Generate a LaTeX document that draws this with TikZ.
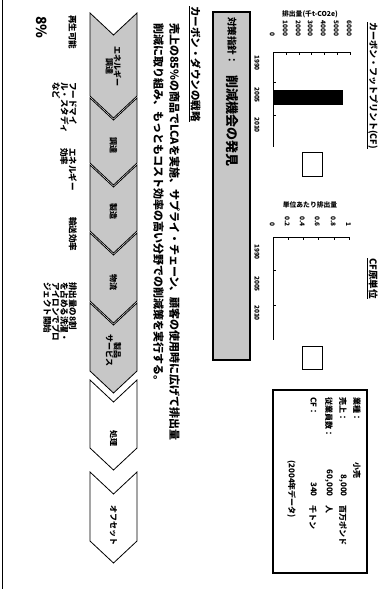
\documentclass[tikz,border=0pt]{standalone}
\usepackage{fontspec}
\setmainfont{Noto Sans CJK JP}
\begin{document}
\begin{tikzpicture}[x=1pt,y=-1pt,
  rt/.style={rotate=-90, inner sep=0pt, align=left},
  fs/.style={font=\bfseries\fontsize{#1}{#1}\selectfont},
  axisline/.style={line width=0.9pt},
  chevbox/.style={draw=black, line width=0.8pt},
  dotfill/.style={fill=black!22},
  legendbox/.style={draw=black, line width=0.8pt, fill=white}]
\useasboundingbox (0,0) rectangle (390,589);
% frame line
\draw[line width=1pt] (2,0) -- (2,589);

% ---- title 1
\node[rt, fs=9, anchor=north west] (t1) at (378,22) {カーボン・フットプリント(CF)};
\draw[line width=0.9pt] ([xshift=-1pt]t1.south west) -- ([xshift=-1pt]t1.south east);
% chart 1
\node[fs=6.8, inner sep=0pt] (ylab1) at (310,14) {排出量(千t-CO2e)};
\draw[axisline] (273,52) -- (350,52);
\draw[axisline] (273,52) -- (273,147);
\foreach \x in {286,299,311,324,337,350} \draw[line width=0.7pt] (\x,52) -- (\x,55);
\foreach \y in {82,115} \draw[line width=0.7pt] (273,\y) -- (276,\y);
\node[rt, fs=6.5, anchor=north east] (tk10) at (275,37) {0};
\node[rt, fs=6.5, anchor=north east] (tk11) at (288,37) {1000};
\node[rt, fs=6.5, anchor=north east] (tk12) at (301,37) {2000};
\node[rt, fs=6.5, anchor=north east] (tk13) at (313,37) {3000};
\node[rt, fs=6.5, anchor=north east] (tk14) at (326,37) {4000};
\node[rt, fs=6.5, anchor=north east] (tk15) at (339,37) {5000};
\node[rt, fs=6.5, anchor=north east] (tk16) at (352,37) {6000};
\fill[black] (274,90) rectangle (343,105);
\node[rt, fs=6.5] (yr1a) at (257,63) {1990};
\node[rt, fs=6.5] (yr1b) at (257,95) {2005};
\node[rt, fs=6.5] (yr1c) at (257,125) {2010};
\node[legendbox, minimum width=20pt, minimum height=24pt] (lg1) at (312,164) {};

% ---- title 2
\node[rt, fs=9.5, anchor=north west] (t2) at (378,258) {CF原単位};
\draw[line width=0.9pt] ([xshift=-1pt]t2.south west) -- ([xshift=-1pt]t2.south east);
% chart 2
\node[fs=6.8, inner sep=0pt] (ylab2) at (310,205) {単位あたり排出量};
\draw[axisline] (273,237) -- (350,237);
\draw[axisline] (273,237) -- (273,340);
\foreach \x in {288,303,318,334,349} \draw[line width=0.7pt] (\x,237) -- (\x,240);
\foreach \y in {270,305} \draw[line width=0.7pt] (273,\y) -- (276,\y);
\node[rt, fs=6.5, anchor=north east] (tk20) at (275,227) {0};
\node[rt, fs=6.5, anchor=north east] (tk21) at (290,227) {0.2};
\node[rt, fs=6.5, anchor=north east] (tk22) at (305,227) {0.4};
\node[rt, fs=6.5, anchor=north east] (tk23) at (320,227) {0.6};
\node[rt, fs=6.5, anchor=north east] (tk24) at (336,227) {0.8};
\node[rt, fs=6.5, anchor=north east] (tk25) at (351,227) {1};
\node[rt, fs=6.5] (yr2a) at (257,252) {1990};
\node[rt, fs=6.5] (yr2b) at (257,284) {2005};
\node[rt, fs=6.5] (yr2c) at (257,313) {2010};
\node[legendbox, minimum width=20pt, minimum height=23pt] (lg2) at (312,358) {};

% ---- info box
\draw[line width=1.2pt] (273,390) rectangle (367,573);
\node[rt, fs=8, anchor=north west] (i1) at (361,397) {業種：};
\node[rt, fs=8, anchor=north west] (i2) at (347,397) {売上：};
\node[rt, fs=8, anchor=north west] (i3) at (333,397) {従業員数：};
\node[rt, fs=8, anchor=north west] (i4) at (317,397) {CF：};
\node[rt, fs=8, anchor=north west] (v1) at (361,462) {小売};
\node[rt, fs=8, anchor=north east] (v2) at (347,497) {8,000};
\node[rt, fs=8, anchor=north west] (u2) at (347,505) {百万ポンド};
\node[rt, fs=8, anchor=north east] (v3) at (333,497) {60,000};
\node[rt, fs=8, anchor=north west] (u3) at (333,505) {人};
\node[rt, fs=8, anchor=north east] (v4) at (317,497) {340};
\node[rt, fs=8, anchor=north west] (u4) at (317,505) {千トン};
\node[rt, fs=8, anchor=north west] (i5) at (296,460) {(2004年データ)};

% ---- header box
\draw[dotfill, line width=1.2pt] (213,12) rectangle (250,360);
\node[rt, fs=9.5, anchor=west] (h1) at (232,17) {対策指針：};
\node[rt, fs=13, anchor=west] (h2) at (232,75) {削減機会の発見};

% ---- subheading
\node[rt, fs=10.5, anchor=north west] (sh) at (201,6) {カーボン・ダウンの戦略};
\draw[line width=0.9pt] ([xshift=-1pt]sh.south west) -- ([xshift=-1pt]sh.south east);

% ---- body text
\node[rt, fs=11, anchor=north west] (b1) at (180,23) {売上の85\%の商品でLCAを実施、サプライ・チェーン、顧客の使用時に広げて排出量};
\node[rt, fs=11, anchor=north west] (b2) at (164,23) {削減に取り組み、もっともコスト効率の高い分野での削減策を実行する。};

% ---- chevrons
\foreach \t/\b/\f in {13/96/black!22,98/163/black!22,165/231/black!22,233/301/black!22,303/371/black!22,380/448/white,472/541/white}
  \draw[chevbox, fill=\f] (90,\t) -- (113.5,\t+22) -- (137,\t) -- (137,\b) -- (113.5,\b+22) -- (90,\b) -- cycle;
\node[rt, fs=8, align=center] (c1) at (113.5,66) {エネルギー\\調達};
\node[rt, fs=8, align=center] (c2) at (113.5,145) {調達};
\node[rt, fs=8, align=center] (c3) at (113.5,211) {製造};
\node[rt, fs=8, align=center] (c4) at (113.5,282) {物流};
\node[rt, fs=8, align=center] (c5) at (113.5,350) {製品\\サービス};
\node[rt, fs=8, align=center] (c6) at (113.5,438) {処理};
\node[rt, fs=8, align=center] (c7) at (113.5,525) {オフセット};

% ---- bottom labels
\node[rt, fs=8.5, anchor=north west, align=left] (l1) at (77,15) {再生可能};
\node[rt, fs=8.5, anchor=north west, align=left] (l2) at (77,82) {フードマイ\\ル・スタディ\\など};
\node[rt, fs=8.5, anchor=north west, align=left] (l3) at (77,148) {エネルギー\\効率};
\node[rt, fs=8.5, anchor=north west, align=left] (l4) at (77,217) {輸送効率};
\node[rt, fs=8.5, anchor=north west, align=left] (l5) at (77,282) {排出量の8割\\を占める洗濯・\\アイロンでプロ\\ジェクト開始};
\node[rt, fs=14, anchor=north west] (pc) at (47,16) {8\%};
\end{tikzpicture}
\end{document}
